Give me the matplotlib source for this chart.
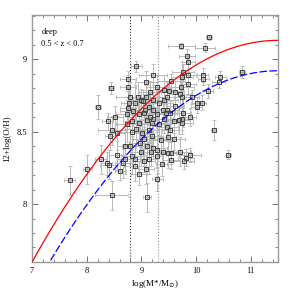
import numpy as np
import matplotlib
matplotlib.use('Agg')
import matplotlib.pyplot as plt

# galaxies: stellar mass, metallicity and errors
logm = [10.24, 9.73, 10.16, 9.83, 9.86, 8.91, 9.76, 10.84, 10.12, 9.21,
        10.44, 9.85, 9.74, 8.76, 9.08, 9.54, 9.85, 10.13, 10.41, 8.44,
        8.76, 9.41, 9.72, 9.28, 9.62, 9.71, 10.21, 9.51, 9.74, 9.93,
        9.08, 8.79, 9.00, 9.22, 9.41, 9.62, 10.01, 10.10, 10.01, 8.21,
        8.77, 8.88, 9.02, 9.13, 9.33, 9.46, 8.76, 8.73, 8.52, 8.38,
        8.85, 8.95, 9.07, 9.22, 9.28, 9.42, 9.52, 9.76, 9.74, 9.89,
        9.68, 9.59, 9.10, 9.19, 9.32, 8.95, 8.82, 8.73, 8.82, 8.90,
        9.01, 9.13, 9.46, 9.52, 9.74, 10.32, 8.46, 8.55, 8.43, 9.19,
        9.49, 8.70, 8.98, 9.10, 9.22, 9.29, 9.40, 9.49, 9.55, 9.71,
        9.89, 9.82, 10.59, 8.55, 8.26, 8.82, 8.88, 9.04, 9.13, 9.28,
        8.70, 8.37, 8.40, 8.67, 9.37, 9.55, 8.88, 9.08, 8.96, 8.61,
        8.01, 9.29, 7.69, 9.10, 8.46, 9.77, 9.04, 9.22, 9.39, 9.45,
        8.93, 9.16, 9.46, 9.05, 9.18, 9.35, 8.80, 9.00, 9.15, 9.60]
oh = [9.15, 9.09, 9.08, 9.02, 8.98, 8.95, 8.91, 8.91, 8.89, 8.89,
      8.88, 8.89, 8.88, 8.86, 8.84, 8.85, 8.83, 8.86, 8.84, 8.80,
      8.81, 8.79, 8.81, 8.81, 8.77, 8.76, 8.78, 8.78, 8.74, 8.74,
      8.74, 8.74, 8.715, 8.72, 8.72, 8.68, 8.70, 8.70, 8.67, 8.67,
      8.70, 8.70, 8.71, 8.67, 8.70, 8.65, 8.66, 8.62, 8.60, 8.57,
      8.64, 8.62, 8.65, 8.65, 8.62, 8.59, 8.63, 8.63, 8.59, 8.60,
      8.58, 8.57, 8.58, 8.56, 8.555, 8.56, 8.57, 8.55, 8.50, 8.52,
      8.49, 8.51, 8.535, 8.51, 8.56, 8.51, 8.51, 8.49, 8.47, 8.47,
      8.46, 8.40, 8.42, 8.40, 8.39, 8.375, 8.36, 8.35, 8.355, 8.36,
      8.34, 8.32, 8.34, 8.335, 8.31, 8.33, 8.31, 8.30, 8.31, 8.33,
      8.31, 8.28, 8.27, 8.28, 8.275, 8.305, 8.26, 8.24, 8.21, 8.225,
      8.24, 8.17, 8.165, 8.045, 8.06, 8.30, 8.63, 8.59, 8.65, 8.63,
      8.74, 8.77, 8.74, 8.45, 8.36, 8.44, 8.40, 8.36, 8.60, 8.45]
xerr = [0.05, 0.25, 0.18, 0.15, 0.12, 0.10, 0.20, 0.05, 0.10, 0.25,
        0.10, 0.15, 0.20, 0.15, 0.20, 0.25, 0.15, 0.10, 0.12, 0.05,
        0.15, 0.20, 0.25, 0.20, 0.15, 0.20, 0.10, 0.25, 0.15, 0.12,
        0.20, 0.25, 0.20, 0.20, 0.25, 0.15, 0.10, 0.08, 0.10, 0.05,
        0.15, 0.20, 0.25, 0.20, 0.25, 0.20, 0.15, 0.20, 0.15, 0.10,
        0.25, 0.20, 0.20, 0.25, 0.20, 0.15, 0.25, 0.15, 0.20, 0.10,
        0.20, 0.15, 0.20, 0.25, 0.20, 0.20, 0.15, 0.20, 0.25, 0.20,
        0.15, 0.20, 0.20, 0.15, 0.20, 0.05, 0.25, 0.15, 0.10, 0.20,
        0.15, 0.15, 0.20, 0.20, 0.25, 0.15, 0.20, 0.15, 0.10, 0.20,
        0.20, 0.15, 0.05, 0.15, 0.10, 0.20, 0.15, 0.20, 0.15, 0.10,
        0.15, 0.10, 0.15, 0.15, 0.10, 0.15, 0.20, 0.15, 0.15, 0.10,
        0.08, 0.10, 0.10, 0.08, 0.30, 0.20, 0.20, 0.15, 0.20, 0.20,
        0.15, 0.20, 0.15, 0.20, 0.15, 0.20, 0.15, 0.20, 0.15, 0.20]
yerr = [0.02, 0.02, 0.03, 0.05, 0.05, 0.04, 0.06, 0.04, 0.05, 0.08,
        0.04, 0.08, 0.10, 0.06, 0.08, 0.05, 0.08, 0.04, 0.04, 0.04,
        0.08, 0.10, 0.06, 0.08, 0.08, 0.10, 0.05, 0.06, 0.10, 0.05,
        0.08, 0.10, 0.08, 0.10, 0.08, 0.06, 0.04, 0.05, 0.04, 0.08,
        0.10, 0.12, 0.08, 0.10, 0.08, 0.10, 0.12, 0.10, 0.08, 0.06,
        0.10, 0.12, 0.10, 0.10, 0.12, 0.10, 0.08, 0.10, 0.08, 0.06,
        0.10, 0.08, 0.10, 0.12, 0.10, 0.12, 0.10, 0.12, 0.12, 0.10,
        0.10, 0.08, 0.10, 0.08, 0.08, 0.07, 0.10, 0.12, 0.10, 0.10,
        0.10, 0.10, 0.12, 0.10, 0.08, 0.12, 0.10, 0.10, 0.08, 0.10,
        0.05, 0.06, 0.03, 0.10, 0.10, 0.12, 0.10, 0.08, 0.10, 0.12,
        0.10, 0.08, 0.10, 0.10, 0.08, 0.06, 0.10, 0.10, 0.08, 0.06,
        0.10, 0.08, 0.10, 0.10, 0.10, 0.06, 0.10, 0.10, 0.08, 0.10,
        0.10, 0.08, 0.10, 0.10, 0.10, 0.08, 0.10, 0.10, 0.10, 0.08]

# mass-metallicity relations: peak, peak mass, curvature
mz_peak_local = 9.13
mz_peak_shift = 8.92
mz_mpeak = 11.5
mz_curv = 0.0756

# mass limits
mlim = [8.8, 9.3]

fig = plt.figure(figsize=(2.94, 2.94), dpi=100)
ax = fig.add_axes([0.109, 0.109, 0.837, 0.840])

ax.errorbar(logm, oh, xerr=xerr, yerr=yerr, fmt='none', ecolor='0.72',
            elinewidth=0.7, capsize=1.2, capthick=0.6, zorder=2)
ax.plot(logm, oh, 's', ms=3.2, mfc=(0.6, 0.6, 0.6, 0.35), mec='0.25',
        mew=0.7, zorder=3)

mm = np.linspace(6.9, 11.6, 300)
ax.plot(mm, mz_peak_local - mz_curv * (mm - mz_mpeak) ** 2, color='red', lw=0.9, zorder=4)
ax.plot(mm, mz_peak_shift - mz_curv * (mm - mz_mpeak) ** 2, color='blue', lw=0.9,
        dashes=(6, 2), zorder=4)

ax.axvline(mlim[0], color='0.2', ls=':', lw=0.8, zorder=1)
ax.axvline(mlim[1], color='0.55', ls=':', lw=0.8, zorder=1)

ax.text(7.17, 9.19, 'deep', fontsize=6, family='Liberation Serif', va='center')
ax.text(7.17, 9.105, '0.5 < z < 0.7', fontsize=6, family='Liberation Serif', va='center')

ax.set_xlim(7, 11.5)
ax.set_ylim(7.6, 9.305)
ax.set_xticks([7, 8, 9, 10, 11])
ax.set_xticks(np.arange(7, 11.5, 0.2), minor=True)
ax.set_yticks([8, 8.5, 9])
ax.set_yticks(np.arange(7.6, 9.31, 0.1), minor=True)
ax.set_xticklabels(['7', '8', '9', '10', '11'])
ax.set_yticklabels(['8', '8.5', '9'])
ax.tick_params(which='both', direction='in', top=True, right=True, colors='0.35',
               labelcolor='black', labelsize=6)
ax.tick_params(which='major', length=4, width=0.6)
ax.tick_params(which='minor', length=2, width=0.5)
for lab in ax.get_xticklabels() + ax.get_yticklabels():
    lab.set_family('Liberation Serif')
for s in ax.spines.values():
    s.set_color('0.6')
    s.set_linewidth(1.0)

ax.set_xlabel('log(M*/M$_{\\odot}$)', fontsize=6.5, family='Liberation Serif', labelpad=2)
ax.set_ylabel('12+log(O/H)', fontsize=6.5, family='Liberation Serif', labelpad=4)

fig.savefig('out.png', dpi=100)
